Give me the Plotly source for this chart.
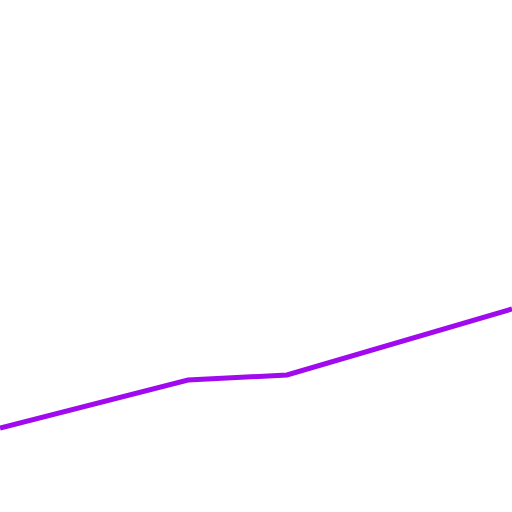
import plotly.graph_objects as go

x_values = [0, 188, 287, 512]
y_values = [84, 132, 137, 203]

fig = go.Figure()
fig.add_trace(go.Scatter(x=x_values, y=y_values, mode="lines",
                         line=dict(color="#a00aee", width=5)))
fig.update_layout(
    width=512, height=512,
    margin=dict(l=0, r=0, t=0, b=0),
    paper_bgcolor="white", plot_bgcolor="white",
    showlegend=False,
    xaxis=dict(range=[0, 512], visible=False, fixedrange=True),
    yaxis=dict(range=[0, 512], visible=False, fixedrange=True),
)
fig.write_html(
    "out.html",
    config={"displayModeBar": False},
    post_script="document.body.style.margin='0';document.body.style.overflow='hidden';",
)
